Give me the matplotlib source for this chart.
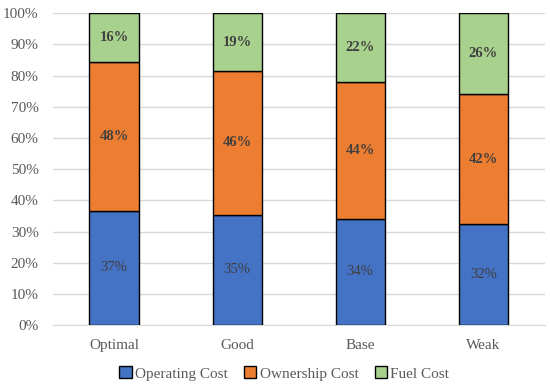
import matplotlib
matplotlib.use("Agg")
import matplotlib.pyplot as plt
import numpy as np

categories = ["Optimal", "Good", "Base", "Weak"]
operating = [36.6, 35.4, 34.1, 32.4]
ownership = [47.9, 46.0, 43.9, 41.6]
fuel = [15.5, 18.6, 22.0, 26.0]
op_labels = ["37%", "35%", "34%", "32%"]
own_labels = ["48%", "46%", "44%", "42%"]
fuel_labels = ["16%", "19%", "22%", "26%"]
yticks = [0, 10, 20, 30, 40, 50, 60, 70, 80, 90, 100]

plt.rcParams['font.family'] = ['Liberation Serif', 'DejaVu Serif']

fig = plt.figure(figsize=(5.5, 3.87), dpi=100)
ax = fig.add_axes([0.0955, 0.160, 0.895, 0.806])

x = np.arange(len(categories))
w = 0.4
series = [
    (operating, op_labels, "#4472C4", "Operating Cost"),
    (ownership, own_labels, "#ED7D31", "Ownership Cost"),
    (fuel, fuel_labels, "#A9D18E", "Fuel Cost"),
]
bottom = np.zeros(len(categories))
for vals, labs, col, name in series:
    vals = np.array(vals)
    ax.bar(x, vals, w, bottom=bottom, color=col, edgecolor="black",
           linewidth=1.0, label=name, zorder=3)
    for xi, b, v, l in zip(x, bottom, vals, labs):
        ax.text(xi, b + v / 2, l, ha="center", va="center", fontsize=10.5,
                color="#404040", fontweight="bold" if col != "#4472C4" else "normal",
                zorder=4)
    bottom = bottom + vals

ax.set_xlim(-0.5, len(categories) - 0.5)
ax.set_ylim(0, 100)
ax.set_yticks(yticks)
ax.set_yticklabels([f"{t}%" for t in yticks])
ax.set_xticks(x)
ax.set_xticklabels(categories)
ax.tick_params(axis="both", length=0, labelsize=11, colors="#595959")
ax.tick_params(axis="x", pad=10)
ax.tick_params(axis="y", pad=10)
ax.grid(axis="y", color="#D9D9D9", linewidth=1.0, zorder=0)
for s in ["top", "right", "left"]:
    ax.spines[s].set_visible(False)
ax.spines["bottom"].set_color("#D9D9D9")

leg = fig.legend(loc="center", bbox_to_anchor=(0.517, 0.035), ncol=3, frameon=False,
                 fontsize=11, handlelength=0.8, handleheight=0.8, handletextpad=0.2,
                 columnspacing=1.1)
for t in leg.get_texts():
    t.set_color("#595959")

fig.savefig("out.png", dpi=100)
